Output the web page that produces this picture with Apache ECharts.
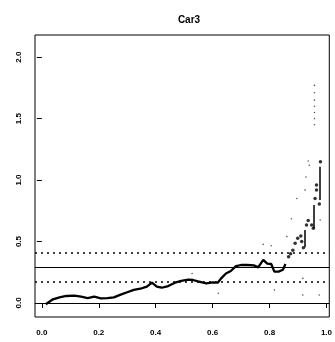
<!DOCTYPE html>
<html>
<head>
<meta charset="utf-8">
<script src="https://cdn.jsdelivr.net/npm/echarts@6/dist/echarts.min.js"></script>
<style>
html,body{margin:0;padding:0;background:#fff;}
#chart{width:335px;height:342px;}
</style>
</head>
<body>
<div id="chart"></div>
<script>
// ---- data ----
var titleText = "Car3";
var xTicks = [0, 0.2, 0.4, 0.6, 0.8, 1.0];
var yTicks = [0, 0.5, 1.0, 1.5, 2.0];

var mainX = [0.014,0.039,0.062,0.086,0.115,0.138,0.161,0.184,0.207,0.23,0.253,0.277,0.30,0.323,0.346,0.369,0.387,0.404,0.421,0.444,0.468,0.49,0.514,0.531,0.549,0.578,0.60,0.618,0.63,0.647,0.664,0.682,0.70,0.722,0.745,0.76,0.778,0.792,0.806,0.817,0.832,0.847,0.856];
var mainY = [-0.01,0.03,0.046,0.057,0.06,0.051,0.04,0.051,0.038,0.04,0.046,0.068,0.087,0.106,0.116,0.133,0.165,0.133,0.124,0.138,0.165,0.18,0.19,0.187,0.176,0.16,0.168,0.165,0.20,0.24,0.26,0.30,0.309,0.309,0.306,0.29,0.35,0.32,0.317,0.255,0.255,0.27,0.317];

var tailX = [0.867,0.874,0.882,0.89,0.899,0.91,0.913,0.919,0.93,0.936,0.948,0.954,0.96,0.965,0.965,0.975,0.979];
var tailY = [0.376,0.40,0.43,0.485,0.526,0.545,0.50,0.45,0.634,0.67,0.634,0.607,0.85,0.92,0.96,0.805,1.149];

var segX  = [0.925,0.957,0.977];
var segY0 = [0.453,0.607,0.837];
var segY1 = [0.593,0.797,1.108];

var faintX = [0.778,0.806,0.861,0.877,0.896,0.925,0.928,0.936,0.94,0.958,0.958,0.958,0.958,0.958,0.958,0.958,0.528,0.62,0.817,0.917,0.917,0.975,0.978];
var faintY = [0.477,0.466,0.54,0.685,0.85,0.92,1.025,1.155,1.12,1.45,1.5,1.55,1.6,1.65,1.71,1.77,0.24,0.079,0.105,0.2,0.065,0.065,0.675];

var refSolid = [0, 0.287];
var refDashed = [0.409, 0.168];

// ---- build ----
function zip(a,b){var r=[];for(var i=0;i<a.length;i++)r.push([a[i],b[i]]);return r;}
var segLines = [];
for (var i=0;i<segX.length;i++) segLines.push([{coord:[segX[i],segY0[i]]},{coord:[segX[i],segY1[i]]}]);

var font = '"Liberation Sans", Arial, sans-serif';
var chart = echarts.init(document.getElementById('chart'), null, {renderer:'canvas'});
chart.setOption({
  animation:false,
  backgroundColor:'#fff',
  title:{text:titleText,left:184,top:10,textAlign:'center',
    textStyle:{fontFamily:font,fontSize:10,fontWeight:'bold',color:'#000'}},
  grid:{left:35,top:35,right:2,bottom:25,show:true,borderColor:'#000',borderWidth:1,containLabel:false},
  xAxis:{type:'value',min:-0.024,max:1.01,
    axisLine:{show:false},splitLine:{show:false},
    axisTick:{show:true,customValues:xTicks,length:5,lineStyle:{color:'#000',width:1}},
    axisLabel:{customValues:xTicks,margin:12,fontFamily:font,fontSize:8,fontWeight:'bold',color:'#000',
      formatter:function(v){return v.toFixed(1);}}},
  yAxis:{type:'value',min:-0.114,max:2.18,
    axisLine:{show:false},splitLine:{show:false},
    axisTick:{show:true,customValues:yTicks,length:5,lineStyle:{color:'#000',width:1}},
    axisLabel:{customValues:yTicks,margin:12,rotate:90,fontFamily:font,fontSize:8,fontWeight:'bold',color:'#000',
      formatter:function(v){return v.toFixed(1);}}},
  series:[
    {type:'line',data:zip(mainX,mainY),showSymbol:false,symbol:'none',
      lineStyle:{color:'#000',width:2.3},z:5,
      markLine:{silent:true,symbol:'none',label:{show:false},
        data:refSolid.map(function(v){return {yAxis:v,lineStyle:{color:'#000',width:1.1,type:'solid'}};})
          .concat(refDashed.map(function(v){return {yAxis:v,lineStyle:{color:'#000',width:1.5,type:[2,4]}};}))}
    },
    {type:'scatter',data:zip(tailX,tailY),symbol:'circle',symbolSize:3.5,itemStyle:{color:'#000'},z:6,
      markLine:{silent:true,symbol:'none',label:{show:false},lineStyle:{color:'#000',width:1.5,type:'solid'},data:segLines}},
    {type:'scatter',data:zip(faintX,faintY),symbol:'circle',symbolSize:1.6,itemStyle:{color:'#333'},z:4}
  ]
});
</script>
</body>
</html>
